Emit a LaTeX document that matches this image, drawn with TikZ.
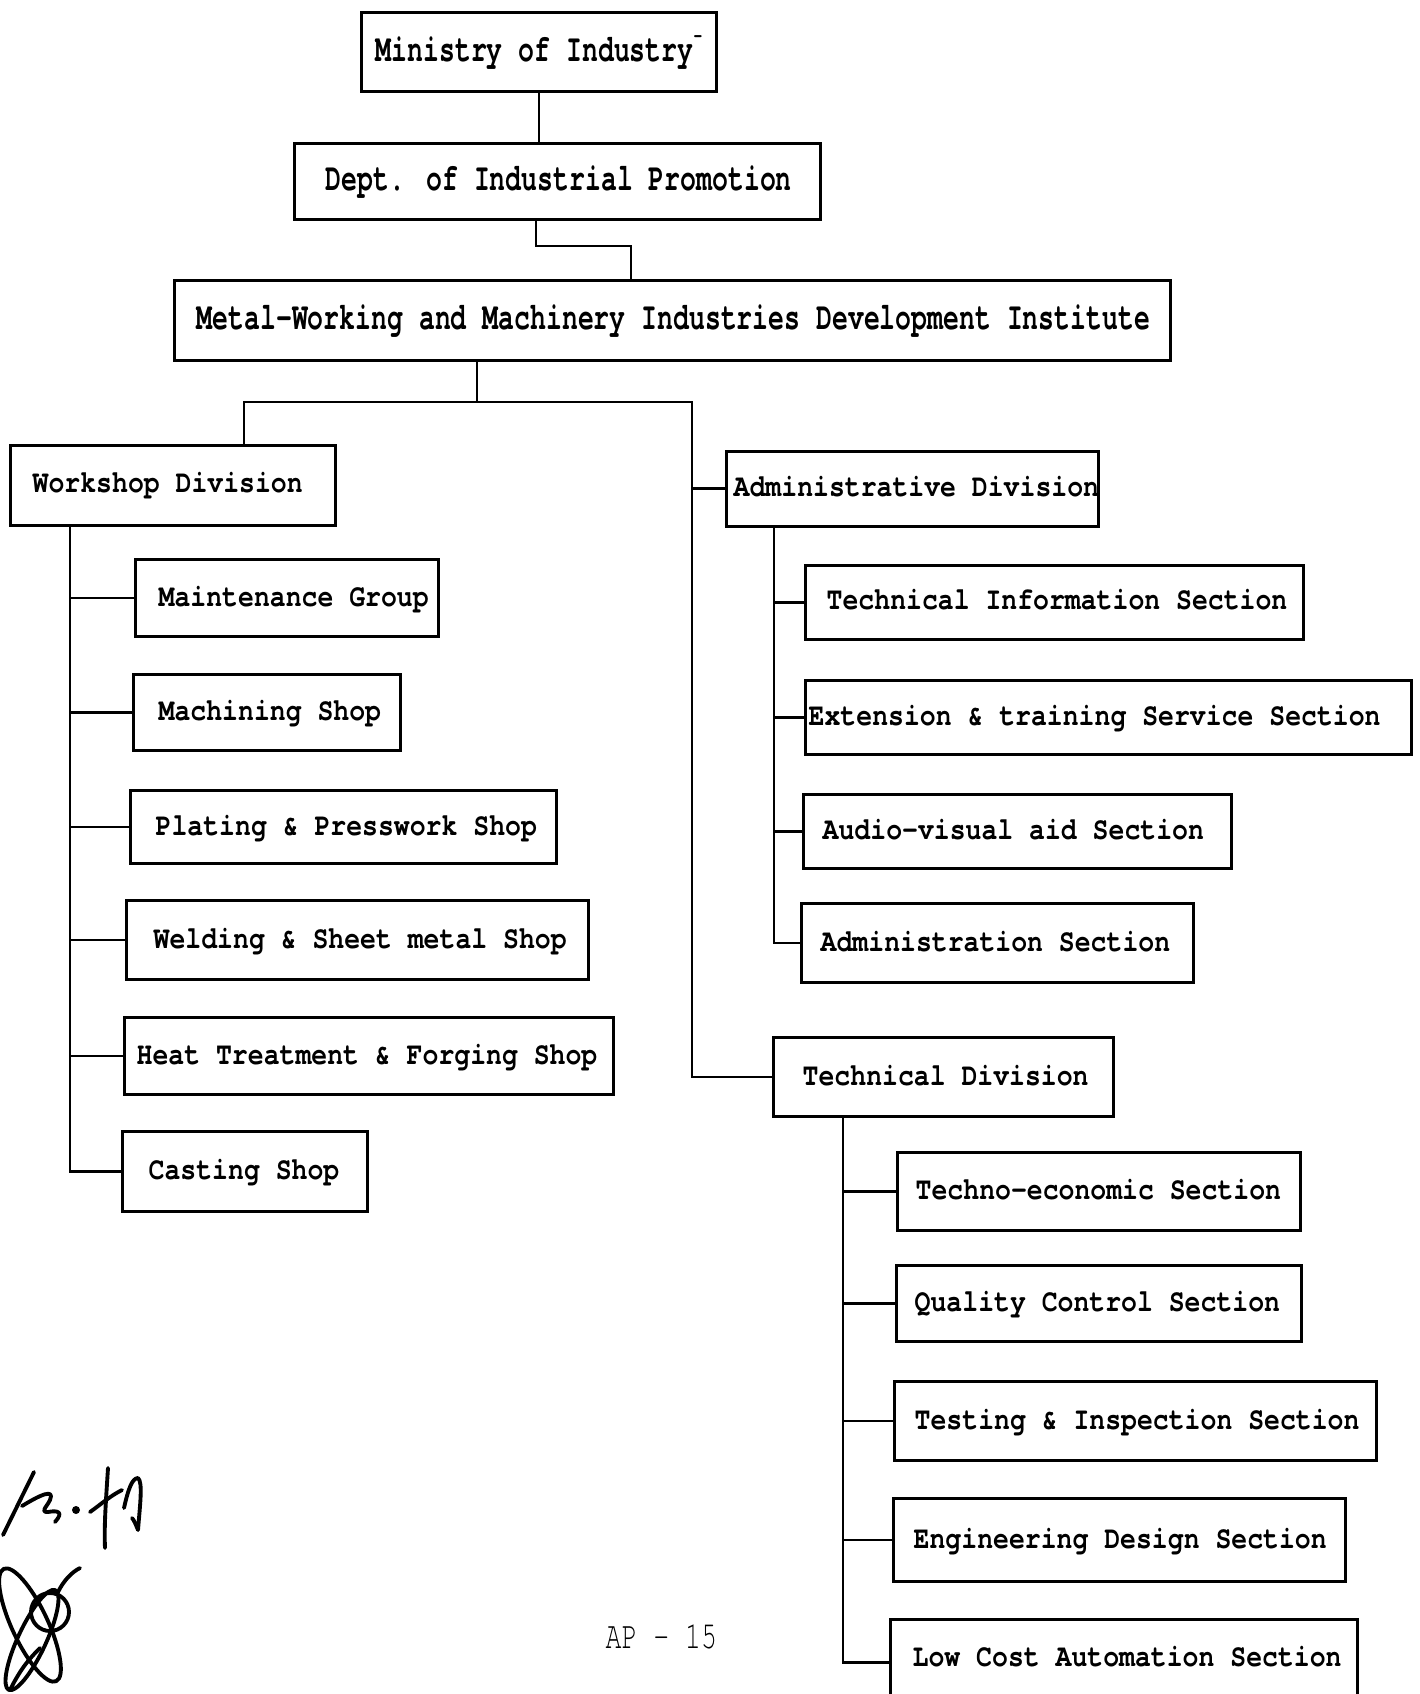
\documentclass[tikz,border=0pt]{standalone}
\usepackage{fontspec}
\newfontfamily\twfont{TeX Gyre Cursor}[FakeStretch=0.837]
\newfontfamily\tnfont{TeX Gyre Cursor}[FakeStretch=0.685]
\newcommand\orgbox[5]{%
  \pgfmathsetmacro\bxw{(#4-#2)*0.1}%
  \pgfmathsetmacro\bxh{(#5-#3)*0.1}%
  \node[box, minimum width=\bxw mm, minimum height=\bxh mm] (#1) at (#2,#3) {};}
\begin{document}
\begin{tikzpicture}[x=0.1mm,y=-0.1mm,
  box/.style={draw, line width=0.8pt, inner sep=0pt, anchor=north west},
  lbl/.style={inner sep=0pt, anchor=base west, font=\twfont\fontsize{9}{10}\selectfont\bfseries},
  toplbl/.style={inner sep=0pt, anchor=base west, font=\tnfont\fontsize{11}{12}\selectfont\bfseries},
  pagelbl/.style={inner sep=0pt, anchor=base west, font=\tnfont\fontsize{11}{12}\selectfont},
  conn/.style={line width=0.8pt},
  sig/.style={line width=1.1pt, line cap=round, line join=round}]
\clip (0,0) rectangle (1419,1694);
\fill[white] (0,0) rectangle (1419,1694);

% boxes
\orgbox{min}{360}{11}{715}{90}
\orgbox{dept}{293}{142}{819}{218}
\orgbox{metal}{173}{279}{1169}{359}
\orgbox{ws}{9}{444}{334}{524}
\orgbox{mg}{134}{558}{437}{635}
\orgbox{ms}{132}{673}{399}{749}
\orgbox{pp}{129}{789}{555}{862}
\orgbox{wd}{125}{899}{587}{978}
\orgbox{ht}{123}{1016}{612}{1093}
\orgbox{cs}{121}{1130}{366}{1210}
\orgbox{ad}{725}{450}{1097}{525}
\orgbox{tis}{804}{564}{1302}{638}
\orgbox{ext}{804}{679}{1410}{753}
\orgbox{av}{802}{793}{1230}{867}
\orgbox{as}{800}{902}{1192}{981}
\orgbox{td}{772}{1036}{1112}{1115}
\orgbox{te}{896}{1151}{1299}{1229}
\orgbox{qc}{895}{1264}{1300}{1340}
\orgbox{ti}{893}{1380}{1375}{1459}
\orgbox{ed}{892}{1497}{1344}{1580}
\orgbox{lc}{889}{1618}{1356}{1704}

% labels
\node[toplbl] (min-t) at (375,62) {Ministry of Industry\raisebox{0.5em}{\fontsize{6}{6}\selectfont-}};
\node[toplbl] (dept-t) at (325,191) {Dept. of Industrial Promotion};
\node[toplbl] (metal-t) at (196,330) {Metal-Working and Machinery Industries Development Institute};
\node[lbl] (ws-t) at (32,493) {Workshop Division};
\node[lbl] (mg-t) at (158,606) {Maintenance Group};
\node[lbl] (ms-t) at (158,720) {Machining Shop};
\node[lbl] (pp-t) at (155,835) {Plating \& Presswork Shop};
\node[lbl] (wd-t) at (153,948) {Welding \& Sheet metal Shop};
\node[lbl] (ht-t) at (136,1064) {Heat Treatment \& Forging Shop};
\node[lbl] (cs-t) at (148,1179) {Casting Shop};
\node[lbl] (ad-t) at (733,497) {Administrative Division};
\node[lbl] (tis-t) at (826,610) {Technical Information Section};
\node[lbl] (ext-t) at (808,725) {Extension \& training Service Section};
\node[lbl] (av-t) at (822,839) {Audio-visual aid Section};
\node[lbl] (as-t) at (820,951) {Administration Section};
\node[lbl] (td-t) at (802,1085) {Technical Division};
\node[lbl] (te-t) at (915,1199) {Techno-economic Section};
\node[lbl] (qc-t) at (914,1311) {Quality Control Section};
\node[lbl] (ti-t) at (914,1429) {Testing \& Inspection Section};
\node[lbl] (ed-t) at (913,1548) {Engineering Design Section};
\node[lbl] (lc-t) at (912,1666) {Low Cost Automation Section};
\node[pagelbl] (page-t) at (605,1648) {AP - 15};

% junction coordinates
\coordinate (j1) at (536,246);
\coordinate (j2) at (631,246);
\coordinate (m1) at (477,402);
\coordinate (hl) at (244,402);
\coordinate (hr) at (692,402);
\coordinate (wx) at (70,0);
\coordinate (ax) at (774,0);
\coordinate (tx) at (843,0);

% connectors
\draw[conn] (min.south) -- (min.south |- dept.north);
\draw[conn] (j1 |- dept.south) -- (j1) -- (j2) -- (j2 |- metal.north);
\draw[conn] (m1 |- metal.south) -- (m1);
\draw[conn] (hl |- ws.north) -- (hl) -- (hr) -- (hr |- td.west) -- (td.west);
\draw[conn] (hr |- ad.west) -- (ad.west);

\draw[conn] (wx |- ws.south) |- (cs.west);
\foreach \n in {mg,ms,pp,wd,ht}{\draw[conn] (wx |- \n.west) -- (\n.west);}

\draw[conn] (ax |- ad.south) |- (as.west);
\foreach \n in {tis,ext,av}{\draw[conn] (ax |- \n.west) -- (\n.west);}

\draw[conn] (tx |- td.south) |- (lc.west);
\foreach \n in {te,qc,ti,ed}{\draw[conn] (tx |- \n.west) -- (\n.west);}

% handwritten signatures
\draw[sig] (3,1535) -- (34,1472);
\draw[sig] (22,1506) .. controls (40,1495) and (55,1488) .. (50,1500) .. controls (46,1508) and (40,1512) .. (48,1512) .. controls (58,1510) and (64,1512) .. (55,1522);
\fill (76,1510) circle (4);
\draw[sig] (108,1468) .. controls (106,1500) and (104,1525) .. (105,1548);
\draw[sig] (90,1512) .. controls (100,1505) and (110,1496) .. (122,1490);
\draw[sig] (124,1508) .. controls (128,1490) and (132,1478) .. (138,1478) .. controls (143,1482) and (140,1505) .. (138,1530) .. controls (136,1525) and (134,1520) .. (132,1518);
\draw[sig, rotate around={25:(30,1625)}] (30,1625) ellipse [x radius=18, y radius=62];
\draw[sig, rotate around={-25:(32,1640)}] (32,1640) ellipse [x radius=14, y radius=55];
\draw[sig] (50,1612) circle (19);
\draw[sig] (58,1592) .. controls (64,1580) and (72,1572) .. (80,1568);
\draw[sig] (10,1690) .. controls (20,1670) and (28,1660) .. (40,1648);
\end{tikzpicture}
\end{document}
